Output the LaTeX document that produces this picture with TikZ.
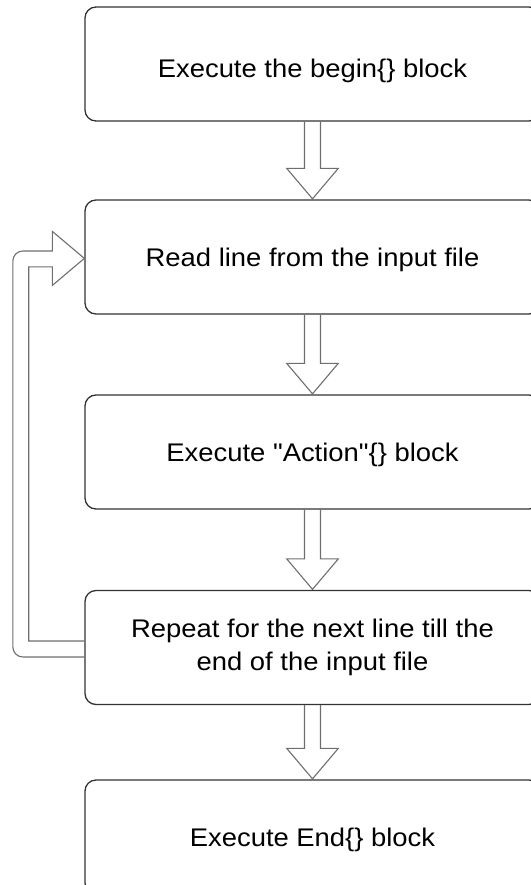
\documentclass[tikz,border=0pt]{standalone}
\usepackage{fontspec}
\setmainfont{Liberation Sans}
\newfontfamily\boxfont[FakeStretch=1.075]{Liberation Sans}
\usetikzlibrary{calc}

\definecolor{boxline}{HTML}{333333}
\definecolor{arrowline}{HTML}{6E6E6E}

\tikzset{
  stepbox/.style={draw=boxline, line width=1.3pt, rounded corners=11pt,
    minimum width=455pt, minimum height=114pt, inner sep=0pt,
    align=center, font=\boxfont\fontsize{25.5pt}{33pt}\selectfont},
  blockarrow/.style={draw=arrowline, line width=1.1pt, line join=miter}
}

% box label moved down by #1 without changing the size of the node text
\newcommand{\shiftedlabel}[2]{\raisebox{-#1}[\height][\depth]{#2}}

% hollow downward block arrow from the bottom of #1 to the top of #2
\newcommand{\downblock}[2]{%
  \draw[blockarrow]
    ($(#1.south)+(-8,0)$) -- ($(#2.north)+(-8,31)$) -- ($(#2.north)+(-25.8,31)$)
    -- ($(#2.north)+(0,0.5)$) -- ($(#2.north)+(25.8,31)$) -- ($(#2.north)+(8,31)$)
    -- ($(#1.south)+(8,0)$);}

\begin{document}
\begin{tikzpicture}[x=1pt, y=1pt]
  \useasboundingbox (0,0) rectangle (530,-885);

  \node[stepbox] (begin)  at (312.5,-64)  {\shiftedlabel{7pt}{Execute the begin\{\} block}};
  \node[stepbox] (read)   at (312.5,-257) {\shiftedlabel{3pt}{Read line from the input file}};
  \node[stepbox] (action) at (312.5,-452) {\shiftedlabel{3pt}{Execute "Action"\{\} block}};
  \node[stepbox] (repeat) at (312.5,-647.5) {Repeat for the next line till the\\end of the input file};
  \node[stepbox] (end)    at (312.5,-837) {\shiftedlabel{3pt}{Execute End\{\} block}};

  \downblock{begin}{read}
  \downblock{read}{action}
  \downblock{action}{repeat}
  \downblock{repeat}{end}

  % loop-back block arrow from the repeat step to the read step
  \draw[blockarrow]
    ($(repeat.west)+(0,6.5)$) -- ($(repeat.west)+(-55.6,6.5)$)
    |- ($(read.west)+(-32,-9.8)$) -- ($(read.west)+(-32,-28.4)$)
    -- ($(read.west)+(0,-1.4)$)
    -- ($(read.west)+(-32,25.6)$) -- ($(read.west)+(-32,6)$)
    [rounded corners=10pt] -- ($(read.west)+(-71.5,6)$) |- ($(repeat.west)+(0,-9.5)$);
\end{tikzpicture}
\end{document}
